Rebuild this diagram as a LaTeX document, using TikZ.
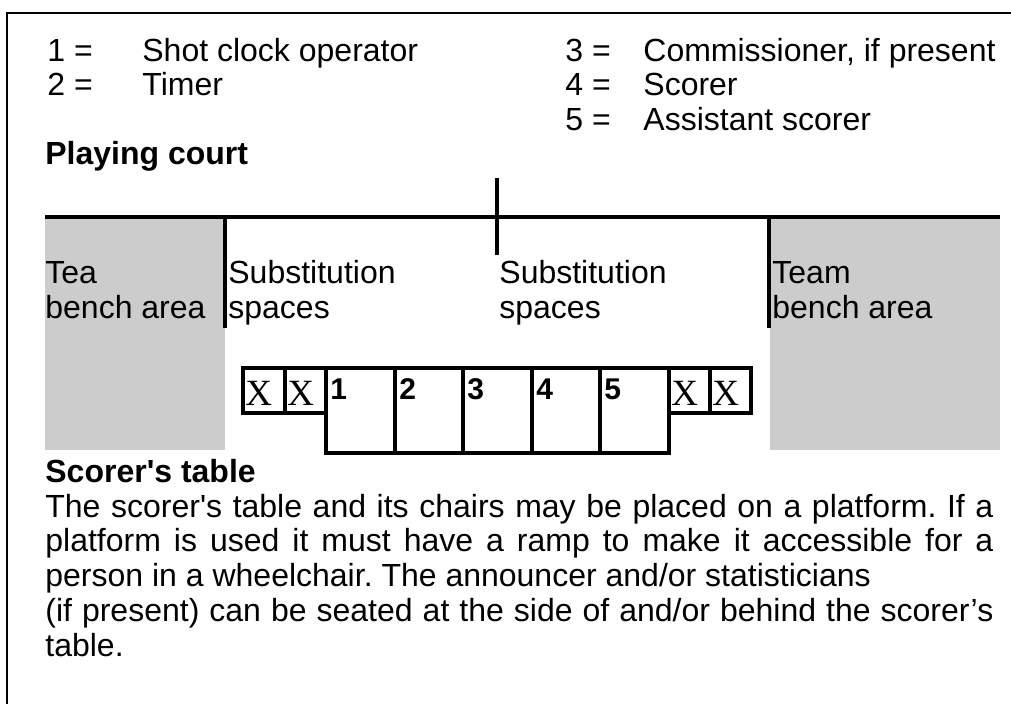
\documentclass[tikz,border=0pt]{standalone}
\usepackage{fontspec}
\setmainfont{Liberation Sans}
\newfontfamily\seatfont{Liberation Serif}
\frenchspacing
\begin{document}
\begin{tikzpicture}[x=0.5pt,y=-0.5pt,
    txt/.style={anchor=base west,inner sep=0pt,font=\fontsize{16}{19}\selectfont},
    head/.style={txt,font=\fontsize{16}{19}\selectfont\bfseries},
    seatno/.style={anchor=base west,inner sep=0pt,font=\fontsize{15}{18}\selectfont\bfseries},
    seatx/.style={anchor=base west,inner sep=0pt,font=\fontsize{18.5}{20}\seatfont},
    bench/.style={fill=black!20,draw=none},
    seat/.style={line width=1.6pt}]
			%%%%% START %%%%%
			\useasboundingbox (0,0) rectangle (1011,704);
			
			% frame
			\draw[line width=1pt] (7,704) -- (7,13) -- (1011,13);
			
			% legend
			\node[txt] (k1) at (47,62) {1 =};
			\node[txt] (v1) at (142,62) {Shot clock operator};
			\node[txt] (k2) at (47,96) {2 =};
			\node[txt] (v2) at (142,96) {Timer};
			\node[txt] (k3) at (565,62) {3 =};
			\node[txt] (v3) at (643,62) {Commissioner, if present};
			\node[txt] (k4) at (565,96) {4 =};
			\node[txt] (v4) at (643,96) {Scorer};
			\node[txt] (k5) at (565,131) {5 =};
			\node[txt] (v5) at (643,131) {Assistant scorer};
			
			\node[head] (court) at (45,165) {Playing court};
			
			% bench areas
			\fill[bench] (45,219) rectangle (225,450);
			\fill[bench] (770,219) rectangle (1000,450);
			
			% sideline and centre line
			\draw[line width=2pt] (45,217) -- (1000,217);
			\draw[line width=2pt] (497,178) -- (497,255);
			\draw[line width=2pt] (225,217) -- (225,328);
			\draw[line width=2pt] (769,217) -- (769,328);
			
			\node[txt] (tea1) at (45,284) {Tea};
			\node[txt] (tea2) at (45,319) {bench area};
			\node[txt] (subl1) at (228,284) {Substitution};
			\node[txt] (subl2) at (228,319) {spaces};
			\node[txt] (subr1) at (499,284) {Substitution};
			\node[txt] (subr2) at (499,319) {spaces};
			\node[txt] (team1) at (772,284) {Team};
			\node[txt] (team2) at (772,319) {bench area};
			
			% scorer's table
			\foreach \xa/\xb in {243/285, 285/326, 669/710, 710/751}
				\draw[seat] (\xa,368) rectangle (\xb,413);
			\foreach \xa/\xb [count=\i] in {326/395, 395/463, 463/532, 532/600, 600/669}{
				\draw[seat] (\xa,368) rectangle (\xb,453);
				\node[seatno] (no\i) at (\xa+4,400) {\i};
			}
			\foreach \xa [count=\i] in {243, 285, 669, 710}
				\node[seatx] (x\i) at (\xa+2,406) {X};
			
			\node[head] (table) at (45,483) {Scorer\textquotesingle s table};
			\node[txt] (p1) at (45,518) {\makebox[474pt][s]{The scorer\textquotesingle s table and its chairs may be placed on a platform. If a}};
			\node[txt] (p2) at (45,552) {\makebox[474pt][s]{platform is used it must have a ramp to make it accessible for a}};
			\node[txt] (p3) at (45,587) {person in a wheelchair. The announcer and/or statisticians};
			\node[txt] (p4) at (45,622) {\makebox[474pt][s]{(if present) can be seated at the side of and/or behind the scorer’s}};
			\node[txt] (p5) at (45,656) {table.};
			
			%%%%% END %%%%%
\end{tikzpicture}
\end{document}
